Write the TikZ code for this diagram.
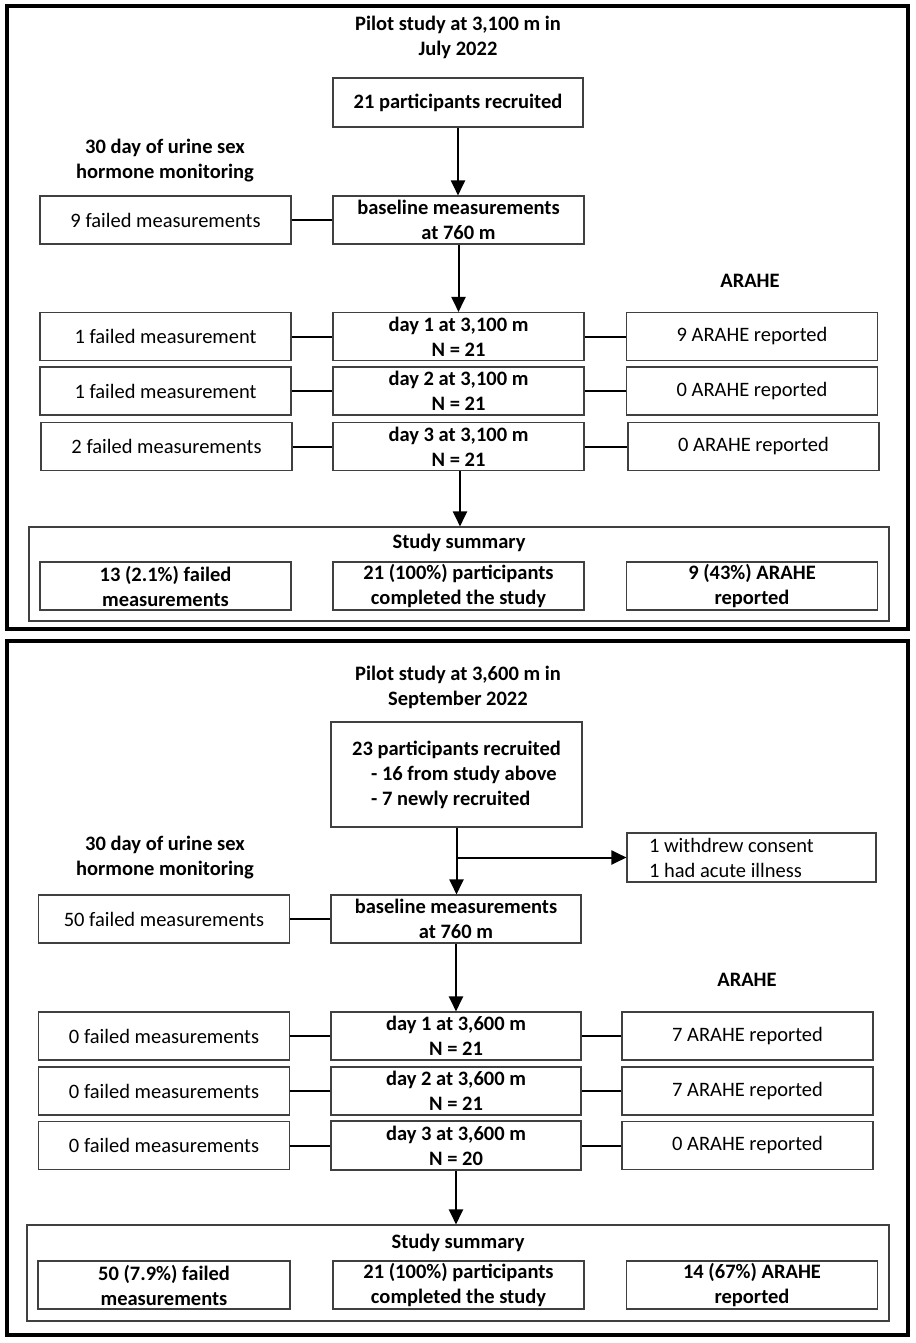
\documentclass[tikz,border=0pt]{standalone}
\usepackage{fontspec}
\setmainfont{Carlito}
\usetikzlibrary{arrows.meta}
\tikzset{
  bx/.style={draw=black!75, line width=1.1pt, minimum height=48pt, minimum width=251pt,
    inner sep=0pt, align=center, font=\fontsize{20.5}{25}\selectfont},
  bb/.style={bx, font=\fontsize{20.5}{25}\selectfont\bfseries},
  lbl/.style={align=center, inner sep=0pt, font=\fontsize{20.5}{25}\selectfont\bfseries},
  conn/.style={line width=2pt},
  arr/.style={line width=2pt, -{Triangle[length=15pt,width=14pt]}},
  frame/.style={draw=black, line width=4pt}
}
\begin{document}
\begin{tikzpicture}[x=1pt,y=-1pt]
\useasboundingbox (0,0) rectangle (915,1343);
% ---------------- top panel ----------------
\draw[frame] (7,6) rectangle (908,629);
\node[lbl] (t1) at (458,37.5) {Pilot study at 3,100 m in\\July 2022};
\node[bb, minimum width=250pt, minimum height=49pt] (rA) at (458,102.5) {21 participants recruited};
\node[lbl] (mA) at (165,161) {30 day of urine sex\\hormone monitoring};
\node[bx] (fA) at (165.5,220) {9 failed measurements};
\node[bb] (bA) at (458.5,220) {baseline measurements\\at 760 m};
\node[lbl] (aA) at (750,281) {ARAHE};
\node[bx] (l1A) at (165.5,336.5) {1 failed measurement};
\node[bb] (c1A) at (458.5,336.5) {day 1 at 3,100 m\\N = 21};
\node[bx] (r1A) at (752,336.5) {9 ARAHE reported};
\node[bx] (l2A) at (165.5,391) {1 failed measurement};
\node[bb] (c2A) at (458.5,391) {day 2 at 3,100 m\\N = 21};
\node[bx] (r2A) at (752,391) {0 ARAHE reported};
\node[bx] (l3A) at (166.5,446.5) {2 failed measurements};
\node[bb] (c3A) at (458.5,446.5) {day 3 at 3,100 m\\N = 21};
\node[bx] (r3A) at (753.5,446.5) {0 ARAHE reported};
\node[bx, minimum width=860pt, minimum height=94pt] (sA) at (459,574) {};
\node[lbl] (sAt) at (459,543) {Study summary};
\node[bb] (s1A) at (165.5,586) {13 (2.1\%) failed\\measurements};
\node[bb] (s2A) at (458.5,586) {21 (100\%) participants\\completed the study};
\node[bb] (s3A) at (752,586) {9 (43\%) ARAHE\\reported};
\draw[arr] (rA.south) -- (rA.south |- bA.north);
\draw[conn] (fA.east) -- (bA.west);
\draw[arr] (bA.south) -- (c1A.north);
\draw[conn] (l1A.east) -- (c1A.west);
\draw[conn] (c1A.east) -- (r1A.west);
\draw[conn] (l2A.east) -- (c2A.west);
\draw[conn] (c2A.east) -- (r2A.west);
\draw[conn] (l3A.east) -- (c3A.west);
\draw[conn] (c3A.east) -- (r3A.west);
\draw[arr] ([xshift=1.5pt]c3A.south) -- ([xshift=1.5pt]c3A.south |- sA.north);
% ---------------- bottom panel ----------------
\draw[frame] (7,641) rectangle (908,1335);
\node[lbl] (t2) at (458,687.5) {Pilot study at 3,600 m in\\September 2022};
\node[bb, minimum height=105pt, align=flush left] (rB) at (456.5,774.5)
  {23 participants recruited\\\hspace*{19pt}- 16 from study above\\\hspace*{19pt}- 7 newly recruited};
\node[bx, minimum width=249pt, minimum height=49pt, text width=205pt, align=flush left] (wB) at (751.5,857.5)
  {1 withdrew consent\\1 had acute illness};
\node[lbl] (mB) at (165,858) {30 day of urine sex\\hormone monitoring};
\node[bx] (fB) at (164,919) {50 failed measurements};
\node[bb, minimum width=250pt] (bB) at (456,919) {baseline measurements\\at 760 m};
\node[lbl] (aB) at (747,980) {ARAHE};
\node[bx] (l1B) at (164,1036) {0 failed measurements};
\node[bb, minimum width=250pt] (c1B) at (456,1036) {day 1 at 3,600 m\\N = 21};
\node[bx] (r1B) at (747.5,1036) {7 ARAHE reported};
\node[bx] (l2B) at (164,1091) {0 failed measurements};
\node[bb, minimum width=250pt] (c2B) at (456,1091) {day 2 at 3,600 m\\N = 21};
\node[bx] (r2B) at (747.5,1091) {7 ARAHE reported};
\node[bx] (l3B) at (164,1145.5) {0 failed measurements};
\node[bb, minimum width=250pt, minimum height=49pt] (c3B) at (456,1145.5) {day 3 at 3,600 m\\N = 20};
\node[bx] (r3B) at (747.5,1145.5) {0 ARAHE reported};
\node[bx, minimum width=862pt, minimum height=96pt] (sB) at (458,1273) {};
\node[lbl] (sBt) at (458,1243) {Study summary};
\node[bb, minimum width=252pt] (s1B) at (164,1285) {50 (7.9\%) failed\\measurements};
\node[bb] (s2B) at (458.5,1285) {21 (100\%) participants\\completed the study};
\node[bb] (s3B) at (752,1285) {14 (67\%) ARAHE\\reported};
\draw[arr] (rB.south) -- (rB.south |- bB.north);
\draw[arr] (rB.south |- wB.west) -- (wB.west);
\draw[conn] (fB.east) -- (bB.west);
\draw[arr] (bB.south) -- (c1B.north);
\draw[conn] (l1B.east) -- (c1B.west);
\draw[conn] (c1B.east) -- (r1B.west);
\draw[conn] (l2B.east) -- (c2B.west);
\draw[conn] (c2B.east) -- (r2B.west);
\draw[conn] (l3B.east) -- (c3B.west);
\draw[conn] (c3B.east) -- (r3B.west);
\draw[arr] (c3B.south) -- (c3B.south |- sB.north);
\end{tikzpicture}
\end{document}
